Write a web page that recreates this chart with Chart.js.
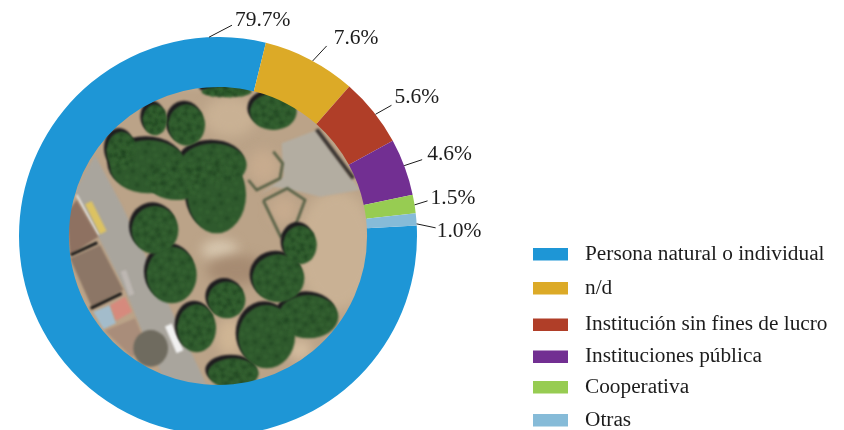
<!DOCTYPE HTML>
<html>
<head>
<meta charset="utf-8">
<script src="https://cdn.jsdelivr.net/npm/chart.js"></script>
<style>
    html, body { margin: 0; padding: 0; background: #fff; width: 844px; height: 430px; overflow: hidden; }
    #chart { position: absolute; left: 0; top: 0; }
</style>
</head>
<body>
<canvas id="chart" width="844" height="480"></canvas>
<script>
    const categories = ['Persona natural o individual', 'n/d', 'Institución sin fines de lucro', 'Instituciones pública', 'Cooperativa', 'Otras'];
    const shares = [79.7, 7.6, 5.6, 4.6, 1.5, 1.0];
    const sliceColors = ['#1e96d6', '#dcaa27', '#b03e28', '#722f92', '#97cc52', '#86bbd8'];

    // where each callout leaves the ring (deg clockwise from top), the leader vector and text offset
    const leaderDeg = [-2.6, 28.4, 52.3, 69.3, 81, 86.5];
    const leaderVec = [[23, -12], [14, -15], [16, -9], [18, -6], [13, -4], [19, 4]];
    const textOffset = [[3, -5], [7, -8], [3, -8], [5, -5], [3, -3], [1, 4]];

    // legend rows are not evenly spaced in the original
    const legendRowY = [254, 288, 324.5, 356.5, 387, 420];

    const serif = '"Liberation Serif", "Times New Roman", serif';
    const textColor = '#1c1c1c';

    // --- aerial photo, approximated (numbers are in a 3x crop space, see drawPhoto)
    const trees = [
        [500, 35, 75, 16], [640, 95, 70, 55], [285, 120, 36, 46], [380, 135, 55, 62],
        [185, 215, 45, 60], [265, 260, 115, 80], [350, 300, 90, 60], [460, 255, 100, 65],
        [470, 345, 88, 115], [285, 450, 70, 72], [335, 585, 75, 85], [500, 660, 56, 55],
        [410, 745, 58, 72], [655, 595, 78, 72], [620, 770, 85, 95], [745, 710, 90, 65],
        [520, 880, 76, 45], [720, 495, 50, 58]
    ];

    function poly(ctx, pts, color) {
        ctx.fillStyle = color;
        ctx.beginPath();
        pts.forEach((p, i) => i ? ctx.lineTo(p[0], p[1]) : ctx.moveTo(p[0], p[1]));
        ctx.closePath();
        ctx.fill();
    }

    function path(ctx, pts, color, w) {
        ctx.strokeStyle = color;
        ctx.lineWidth = w;
        ctx.beginPath();
        pts.forEach((p, i) => i ? ctx.lineTo(p[0], p[1]) : ctx.moveTo(p[0], p[1]));
        ctx.stroke();
    }

    function blob(ctx, x, y, rx, ry, color) {
        ctx.fillStyle = color;
        ctx.beginPath();
        ctx.ellipse(x, y, rx, ry, 0, 0, Math.PI * 2);
        ctx.fill();
    }

    function drawPhoto(ctx, cx, cy, r) {
        ctx.save();
        ctx.beginPath();
        ctx.arc(cx, cy, r + 1, 0, Math.PI * 2);
        ctx.clip();
        ctx.translate(cx - 158, cy - 156);
        ctx.scale(1 / 3, 1 / 3);

        ctx.filter = 'blur(6px)';
        poly(ctx, [[0, 0], [960, 0], [960, 960], [0, 960]], '#bba388');
        // sandy ground on the right and top
        blob(ctx, 830, 510, 120, 180, '#c9b194');
        blob(ctx, 510, 110, 80, 60, '#c9b194');
        blob(ctx, 610, 260, 45, 50, '#c7ab8e');
        blob(ctx, 670, 390, 40, 40, '#c7ab8e');
        blob(ctx, 480, 510, 55, 30, '#d8c8b0');
        blob(ctx, 510, 770, 40, 55, '#cfb594');
        blob(ctx, 720, 810, 35, 30, '#d6bea0');
        blob(ctx, 530, 570, 90, 45, '#a68b72');

        ctx.filter = 'blur(1px)';
        // paved area
        poly(ctx, [[770, 150], [900, 330], [780, 350], [720, 335], [640, 320], [600, 345], [670, 290], [665, 190]], '#b3ada1');
        path(ctx, [[770, 148], [880, 295]], '#3a3532', 12);
        // road
        poly(ctx, [[105, 225], [185, 375], [440, 915], [320, 915], [240, 740], [200, 640], [115, 470], [45, 335]], '#a9a59d');
        path(ctx, [[50, 345], [115, 465]], '#eeeeea', 5);
        // buildings
        poly(ctx, [[20, 400], [50, 360], [115, 470], [30, 525]], '#8e7161');
        poly(ctx, [[30, 535], [120, 495], [190, 630], [95, 680]], '#8c7666');
        path(ctx, [[32, 525], [112, 488]], '#141414', 9);
        path(ctx, [[92, 685], [185, 640]], '#141414', 9);
        poly(ctx, [[100, 695], [150, 675], [168, 730], [130, 748]], '#a3bccb');
        poly(ctx, [[150, 675], [195, 650], [216, 695], [168, 722]], '#d68a7d');
        poly(ctx, [[135, 752], [225, 715], [260, 800], [215, 830]], '#a98d7a');
        blob(ctx, 272, 805, 52, 55, '#6f6b5f');
        // vehicles
        path(ctx, [[85, 368], [130, 458]], '#dcc262', 22);
        path(ctx, [[190, 572], [215, 645]], '#bdb7b2', 17);
        path(ctx, [[325, 735], [360, 815]], '#f1f1f1', 22);
        // hedges
        path(ctx, [[565, 300], [590, 330], [660, 295], [668, 250], [640, 215]], '#566045', 8);
        path(ctx, [[610, 362], [682, 325], [735, 360], [705, 440], [662, 470], [610, 362]], '#566045', 8);

        trees.forEach(t => blob(ctx, t[0] - 8, t[1] - 11, t[2], t[3], '#1d1b1e'));
        trees.forEach(t => blob(ctx, t[0], t[1], t[2], t[3], '#2f5a2d'));
        // fine canopy speckle
        trees.forEach(t => {
            for (let a = 0; a < 40; a++) {
                const ang = a * 2.39996;
                const d = Math.sqrt((a + 0.5) / 40) * 0.9;
                blob(ctx, t[0] + Math.cos(ang) * t[2] * d, t[1] + Math.sin(ang) * t[3] * d,
                    7, 7, a % 3 ? 'rgba(60,110,55,0.35)' : 'rgba(25,60,28,0.4)');
            }
        });
        ctx.restore();
    }

    const photoPlugin = {
        id: 'photo',
        beforeDatasetsDraw(chart) {
            const arc = chart.getDatasetMeta(0).data[0];
            drawPhoto(chart.ctx, arc.x, arc.y, arc.innerRadius);
        }
    };

    const calloutPlugin = {
        id: 'callouts',
        afterDatasetsDraw(chart) {
            const ctx = chart.ctx;
            const arc = chart.getDatasetMeta(0).data[0];
            ctx.save();
            ctx.font = '21.5px ' + serif;
            ctx.textBaseline = 'middle';
            ctx.textAlign = 'left';
            shares.forEach((v, i) => {
                const a = leaderDeg[i] * Math.PI / 180;
                const x0 = arc.x + Math.sin(a) * arc.outerRadius;
                const y0 = arc.y - Math.cos(a) * arc.outerRadius;
                const x1 = x0 + leaderVec[i][0];
                const y1 = y0 + leaderVec[i][1];
                ctx.strokeStyle = '#1c1c1c';
                ctx.lineWidth = 1;
                ctx.beginPath();
                ctx.moveTo(x0, y0);
                ctx.lineTo(x1, y1);
                ctx.stroke();
                ctx.fillStyle = textColor;
                ctx.fillText(v.toFixed(1) + '%', x1 + textOffset[i][0], y1 + textOffset[i][1]);
            });
            ctx.restore();
        }
    };

    const legendPlugin = {
        id: 'sideLegend',
        afterDraw(chart) {
            const ctx = chart.ctx;
            ctx.save();
            ctx.font = '21.3px ' + serif;
            ctx.textBaseline = 'middle';
            categories.forEach((name, i) => {
                ctx.fillStyle = sliceColors[i];
                ctx.fillRect(533, legendRowY[i] - 6, 35, 12.5);
                ctx.fillStyle = textColor;
                ctx.fillText(name, 585, legendRowY[i]);
            });
            ctx.restore();
        }
    };

    new Chart(document.getElementById('chart'), {
        type: 'doughnut',
        data: {
            labels: categories,
            datasets: [{
                data: shares,
                backgroundColor: sliceColors,
                borderWidth: 0
            }]
        },
        options: {
            responsive: false,
            animation: false,
            cutout: '74.9%',
            rotation: 87,
            layout: { padding: { left: 19, top: 37, right: 427, bottom: 45 } },
            plugins: { legend: { display: false }, tooltip: { enabled: false } }
        },
        plugins: [photoPlugin, calloutPlugin, legendPlugin]
    });
</script>
</body>
</html>
